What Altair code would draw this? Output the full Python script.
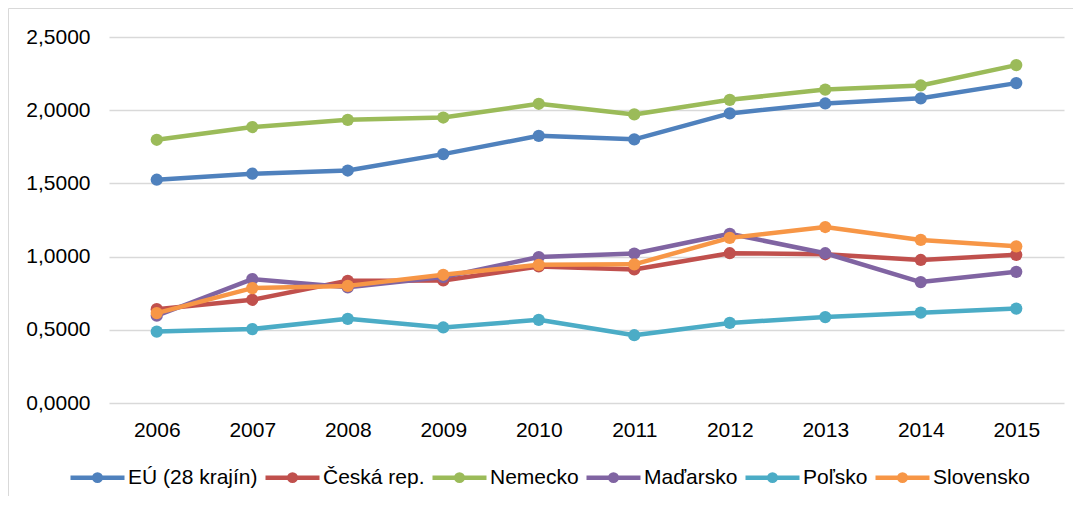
import altair as alt
import pandas as pd

years = ["2006", "2007", "2008", "2009", "2010", "2011", "2012", "2013", "2014", "2015"]
series = ["EÚ (28 krajín)", "Česká rep.", "Nemecko", "Maďarsko", "Poľsko", "Slovensko"]
colors = ["#4f81bd", "#c0504d", "#9bbb59", "#8064a2", "#4bacc6", "#f79646"]

eu = [1.525, 1.566, 1.588, 1.700, 1.825, 1.801, 1.978, 2.046, 2.081, 2.185]
cz = [0.641, 0.705, 0.835, 0.837, 0.933, 0.912, 1.023, 1.016, 0.977, 1.012]
de = [1.798, 1.885, 1.934, 1.950, 2.044, 1.971, 2.071, 2.141, 2.169, 2.308]
hu = [0.596, 0.846, 0.790, 0.860, 0.997, 1.021, 1.156, 1.023, 0.826, 0.896]
pl = [0.488, 0.505, 0.575, 0.516, 0.568, 0.463, 0.547, 0.587, 0.617, 0.645]
sk = [0.614, 0.785, 0.800, 0.876, 0.944, 0.947, 1.128, 1.202, 1.114, 1.070]

y_ticks = [0.0, 0.5, 1.0, 1.5, 2.0, 2.5]

values = [eu, cz, de, hu, pl, sk]
rows = []
for name, vals in zip(series, values):
    for yr, v in zip(years, vals):
        rows.append({"rok": yr, "krajina": name, "hodnota": v})
df = pd.DataFrame(rows)

FONT = "Liberation Sans"

# legend symbol: line with a dot (Excel style)
leg_path = "M-1,0L1,0M0.12,0A0.12,0.12,0,1,1,-0.12,0A0.12,0.12,0,1,1,0.12,0Z"

x_enc = alt.X(
    "rok:O",
    sort=years,
    scale=alt.Scale(type="point", padding=0.5),
    axis=alt.Axis(
        title=None, domain=False, ticks=False, grid=False, labelAngle=0,
        labelFont=FONT, labelFontSize=21, labelColor="#000000", labelPadding=16,
    ),
)
y_enc = alt.Y(
    "hodnota:Q",
    scale=alt.Scale(domain=[0, 2.5], nice=False, zero=True),
    axis=alt.Axis(
        title=None, values=y_ticks, domain=False, ticks=False,
        grid=True, gridColor="#d9d9d9", gridWidth=1.5,
        labelExpr="replace(format(datum.value, '.4f'), '.', ',')",
        labelFont=FONT, labelFontSize=21, labelColor="#000000", labelPadding=19,
    ),
)

legend = alt.Legend(
    title=None, orient="none", direction="horizontal", legendX=-41, legendY=411,
    symbolType=leg_path, symbolSize=2916, symbolStrokeWidth=4.5,
    labelFont=FONT, labelFontSize=21, labelColor="#000000", labelOffset=1,
    columnPadding=-2, padding=0, labelLimit=300,
)

color_scale = alt.Scale(domain=series, range=colors)

frame = alt.Chart(pd.DataFrame({"f": [0]})).mark_rect(
    fill="transparent", stroke="#d9d9d9", strokeWidth=1
).encode(
    x=alt.value(-100.5), x2=alt.value(1300), y=alt.value(-28.5), y2=alt.value(900)
)

layers = [frame]
for name in series:
    base = alt.Chart(df).transform_filter(alt.datum.krajina == name)
    line = base.mark_line(strokeWidth=4.5, strokeJoin="round").encode(
        x=x_enc, y=y_enc,
        color=alt.Color("krajina:N", scale=color_scale, legend=legend, sort=series),
    )
    pts = base.mark_point(filled=True, size=150, opacity=1).encode(
        x=x_enc, y=y_enc,
        color=alt.Color("krajina:N", scale=color_scale, legend=None, sort=series),
    )
    layers += [line, pts]

chart = alt.layer(*layers).properties(
    width=955, height=366,
    autosize=alt.AutoSizeParams(type="none"),
    padding={"left": 101, "top": 29, "right": 9, "bottom": 93},
).configure_view(stroke=None)

chart.save("out.html", embed_options={"renderer": "svg", "actions": False})
